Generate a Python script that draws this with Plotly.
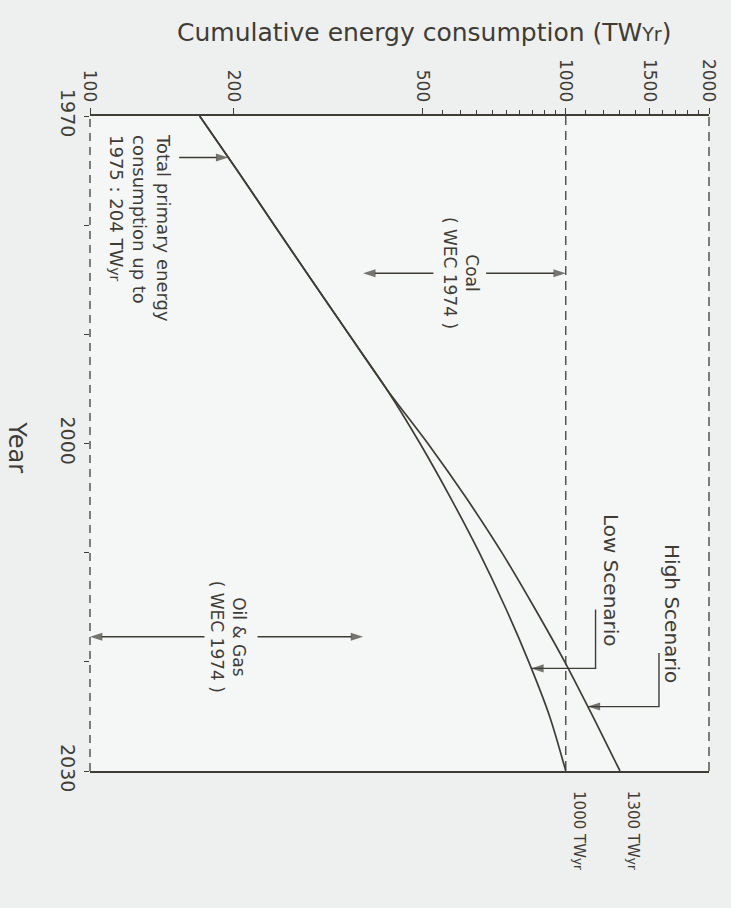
import numpy as np
import plotly.graph_objects as go

# Cumulative world primary energy consumption, TWyr (log scale), 1970-2030
years = [1970, 1975, 1980, 1985, 1990, 1995, 2000, 2005, 2010, 2015, 2020, 2025, 2030]
low_scenario = [170, 204, 244, 292, 350, 420, 494, 573, 658, 746, 836, 925, 1000]
high_scenario = [170, 204, 244, 292, 350, 420, 513, 618, 734, 858, 995, 1140, 1300]

# Resource limits (WEC 1974), TWyr
coal_limit = 1000
oil_gas_limit = 375
axis_floor = 100

energy_ticks = [100, 200, 500, 1000, 1500, 2000]
energy_labels = ["100", "200", "500", "1000", "1500", "2000"]
energy_minor = [550, 600, 650, 700, 750, 800, 850, 900, 950,
                1100, 1200, 1300, 1400, 1600, 1700, 1800, 1900]
year_ticks = [1970, 2000, 2030]
year_labels = ["1970", "2000", "2030"]
year_minor = [1980, 1990, 2010, 2020]

INK = "#3f3c36"
FONT = "DejaVu Sans"
lg = np.log10


def small(txt, px):
    """Reduced-size run of text (unit suffix)."""
    return f'<span style="font-size:{px}px">{txt}</span>'


def on_curve(series, year):
    """Value of a scenario curve at a given year (interpolated in log space)."""
    return 10 ** np.interp(year, years, np.log10(series))


fig = go.Figure()
for name, vals in (("High Scenario", high_scenario), ("Low Scenario", low_scenario)):
    fig.add_trace(go.Scatter(
        x=vals, y=years, mode="lines", name=name,
        line=dict(color=INK, width=1.7, shape="spline", smoothing=0.8),
        hoverinfo="skip"))

# coal resource limit
fig.add_trace(go.Scatter(
    x=[coal_limit, coal_limit], y=[years[0], years[-1]], mode="lines",
    line=dict(color=INK, width=1.3, dash="9px,6px"), hoverinfo="skip"))


def add_arrow(xs, ys):
    """Polyline ending in an arrowhead at its last point."""
    n = len(xs)
    fig.add_trace(go.Scatter(
        x=xs, y=ys, mode="lines+markers", hoverinfo="skip",
        line=dict(color=INK, width=1.4),
        marker=dict(symbol="arrow", angleref="previous", color=INK,
                    size=[0] * (n - 1) + [13], line=dict(width=0))))


# 1975 consumption pointer
yr_pointer = 1973.8
add_arrow([154, on_curve(low_scenario, yr_pointer)], [yr_pointer, yr_pointer])

# Coal bracket
y_coal = 1984.4
add_arrow([527, oil_gas_limit], [y_coal, y_coal])
add_arrow([680, coal_limit], [y_coal, y_coal])

# Oil & gas bracket
y_oil = 2017.7
add_arrow([174, axis_floor], [y_oil, y_oil])
add_arrow([225, oil_gas_limit], [y_oil, y_oil])

# scenario leaders: run along the label, then point at the curve
hi_x, hi_y0, hi_y1 = 1570, 2019.2, 2024.1
lo_x, lo_y0, lo_y1 = 1155, 2015.2, 2020.6
add_arrow([hi_x, hi_x, on_curve(high_scenario, hi_y1)], [hi_y0, hi_y1, hi_y1])
add_arrow([lo_x, lo_x, on_curve(low_scenario, lo_y1)], [lo_y0, lo_y1, lo_y1])


def text_note(text, x, y, size, xanchor="center", yanchor="middle", align="center"):
    return dict(text=text, x=lg(x), y=y, xref="x", yref="y", showarrow=False,
                textangle=90, xanchor=xanchor, yanchor=yanchor, align=align,
                font=dict(family=FONT, size=size, color=INK))


notes = [
    text_note("Total primary energy<br>consumption up to<br>1975 : 204 TW" + small("yr", 14),
              127, 1971.5, 18, yanchor="top", align="left"),
    text_note("Coal<br>( WEC 1974 )", 603, y_coal, 17),
    text_note("Oil & Gas<br>( WEC 1974 )", 195, y_oil, 17),
    text_note("High Scenario", 1670, 2015.6, 20),
    text_note("Low Scenario", 1245, 2012.5, 20),
]

# end-of-period totals, just beyond the 2030 line
for total in (high_scenario[-1], low_scenario[-1]):
    notes.append(dict(text=f"{total} TW" + small("yr", 12), x=lg(total), y=-0.028,
                      xref="x", yref="paper", xshift=13, showarrow=False,
                      textangle=90, xanchor="center", yanchor="top", align="left",
                      font=dict(family=FONT, size=15, color=INK)))

# axis titles
notes.append(dict(text="Cumulative energy consumption (TW" + small("Yr", 19) + ")",
                  x=0.539, y=1.128, xref="paper", yref="paper", showarrow=False,
                  xanchor="center", yanchor="middle",
                  font=dict(family=FONT, size=25, color=INK)))
notes.append(dict(text="Year", x=-0.117, y=0.495, xref="paper", yref="paper",
                  showarrow=False, textangle=90, xanchor="center", yanchor="middle",
                  font=dict(family=FONT, size=24, color=INK)))

shapes = [
    # dashed side frames
    dict(type="line", xref="paper", yref="paper", x0=0, x1=0, y0=0, y1=1,
         line=dict(color=INK, width=1.3, dash="8px,6px")),
    dict(type="line", xref="paper", yref="paper", x0=1, x1=1, y0=0, y1=1,
         line=dict(color=INK, width=1.3, dash="9px,6px")),
]

fig.update_layout(
    width=731, height=908,
    margin=dict(l=90, r=19, t=116, b=137, pad=0),
    paper_bgcolor="#edf0ef", plot_bgcolor="#f5f7f6",
    showlegend=False,
    annotations=notes, shapes=shapes,
    xaxis=dict(type="log", range=[lg(energy_ticks[0]), lg(energy_ticks[-1])],
               side="top", showline=True, mirror=True, linecolor=INK, linewidth=1.7,
               ticks="outside", ticklen=6, tickwidth=1.3, tickcolor=INK,
               tickvals=energy_ticks, ticktext=energy_labels, tickangle=90,
               tickfont=dict(family=FONT, size=17, color=INK),
               showgrid=False, zeroline=False,
               minor=dict(tickvals=energy_minor, ticks="outside", ticklen=4,
                          tickwidth=1.1, tickcolor=INK, showgrid=False)),
    yaxis=dict(range=[years[-1], years[0]], showline=False,
               ticks="outside", ticklen=5, tickwidth=1.2, tickcolor=INK,
               tickvals=year_ticks, ticktext=year_labels, tickangle=90,
               tickfont=dict(family=FONT, size=19, color=INK),
               showgrid=False, zeroline=False,
               minor=dict(tickvals=year_minor, ticks="outside", ticklen=5,
                          tickwidth=1.2, tickcolor=INK, showgrid=False)),
)

fig.write_html("out.html")
